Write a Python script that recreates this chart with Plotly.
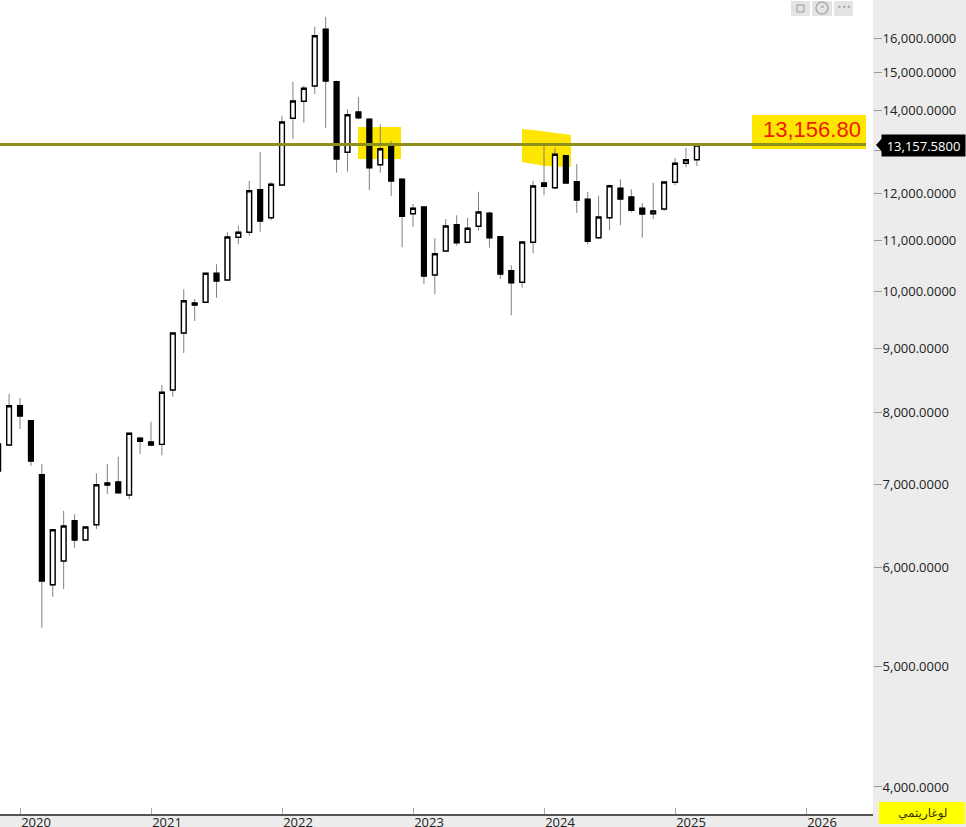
import plotly.graph_objects as go

PLOT_W = 873
PLOT_H = 814

# monthly candles, Nov 2019 .. Mar 2025
months = [
    "2019-11", "2019-12",
    "2020-01", "2020-02", "2020-03", "2020-04", "2020-05", "2020-06",
    "2020-07", "2020-08", "2020-09", "2020-10", "2020-11", "2020-12",
    "2021-01", "2021-02", "2021-03", "2021-04", "2021-05", "2021-06",
    "2021-07", "2021-08", "2021-09", "2021-10", "2021-11", "2021-12",
    "2022-01", "2022-02", "2022-03", "2022-04", "2022-05", "2022-06",
    "2022-07", "2022-08", "2022-09", "2022-10", "2022-11", "2022-12",
    "2023-01", "2023-02", "2023-03", "2023-04", "2023-05", "2023-06",
    "2023-07", "2023-08", "2023-09", "2023-10", "2023-11", "2023-12",
    "2024-01", "2024-02", "2024-03", "2024-04", "2024-05", "2024-06",
    "2024-07", "2024-08", "2024-09", "2024-10", "2024-11", "2024-12",
    "2025-01", "2025-02", "2025-03",
]
opens = [
    7179, 7533,
    8101, 7879, 7130, 5816, 6077, 6548, 6318, 6499, 7021, 7034, 6867, 7627,
    7575, 7542, 8340, 9268, 9797, 9810, 10351, 10223, 11064, 11167, 12083, 11473,
    12189, 13790, 14231, 14640, 16260, 14757, 12949, 13952, 13765, 12655, 13084, 12318,
    11558, 11702, 10319, 10787, 11325, 10962, 11292, 11567, 11076, 10401, 10180, 10962,
    12234, 12128, 12868, 12263, 11870, 11056, 11473, 12114, 11921, 11674, 11558, 11659,
    12250, 12688, 12773,
]
closes = [
    7546, 8101,
    7948, 7313, 5856, 6440, 6484, 6318, 6472, 6999, 6995, 6896, 7698, 7584,
    7533, 8305, 9268, 9839, 9761, 10351, 10204, 11070, 11167, 12061, 11403, 12205,
    13696, 14239, 14578, 16068, 14776, 12790, 13882, 13805, 12585, 13036, 12279, 11503,
    11674, 10299, 10733, 11298, 10954, 11250, 11595, 11056, 10338, 10172, 10968, 12166,
    12160, 12901, 12234, 11855, 10983, 11488, 12173, 11877, 11631, 11552, 11616, 12257,
    12688, 12773, 13125,
]
highs = [
    7600, 8279,
    8217, 7879, 7272, 6440, 6670, 6626, 6472, 7148, 7272, 7371, 7707, 7649,
    7865, 8418, 9268, 10049, 9870, 10351, 10525, 11167, 11304, 12279, 12956, 12257,
    13857, 14757, 14648, 16338, 16643, 14784, 14022, 14345, 13790, 13638, 13230, 12318,
    11767, 11702, 11050, 11445, 11524, 11473, 12038, 11601, 11090, 10505, 10968, 12286,
    13125, 13060, 12868, 12672, 12032, 11950, 12195, 12318, 12092, 11789, 12241, 12257,
    12813, 13052, 13170,
]
lows = [
    7100, 7519,
    7759, 7245, 5371, 5688, 5770, 6228, 6318, 6448, 6880, 6896, 6812, 7408,
    7515, 7390, 8237, 8931, 9476, 9810, 9894, 10223, 10928, 11097, 11179, 11418,
    12166, 13272, 13678, 14424, 13552, 12470, 12493, 13765, 12076, 12470, 11943, 10861,
    11283, 10148, 9962, 10787, 10894, 10962, 11200, 10853, 10242, 9577, 10079, 10741,
    11958, 12092, 12234, 11573, 10922, 11044, 11208, 11313, 11588, 11056, 11445, 11616,
    12182, 12595, 12625,
]

price_ticks = [4000, 5000, 6000, 7000, 8000, 9000, 10000, 11000, 12000, 13000, 14000, 15000, 16000]
year_ticks = [2020, 2021, 2022, 2023, 2024, 2025, 2026]

level_value = 13135
level_note = "13,156.80"
last_price = "13,157.5800"
scale_label = "لوغاريتمي"


def month_pos(label):
    y, m = label.split("-")
    return (int(y) - 2020) * 12 + int(m) - 1


def px(x):
    return x / PLOT_W


def py(y):
    return 1 - y / PLOT_H


def rect(x0, y0, x1, y1, fill, layer="below", line=None):
    return dict(type="rect", xref="paper", yref="paper", layer=layer,
                x0=px(x0), x1=px(x1), y0=py(y0), y1=py(y1),
                fillcolor=fill, line=line or dict(width=0))


def poly(points, fill, layer="below"):
    path = "M " + " L ".join(f"{px(x)},{py(y)}" for x, y in points) + " Z"
    return dict(type="path", xref="paper", yref="paper", layer=layer,
                path=path, fillcolor=fill, line=dict(width=0))


def note(x, y, text, size, color, family="Open Sans", **kw):
    return dict(xref="paper", yref="paper", x=px(x), y=py(y), text=text, showarrow=False,
                xanchor=kw.pop("xanchor", "center"), yanchor="middle",
                font=dict(family=family, size=size, color=color), **kw)


x_vals = [month_pos(m) for m in months]
body_top = [max(o, c) for o, c in zip(opens, closes)]
body_bot = [min(o, c) for o, c in zip(opens, closes)]

fig = go.Figure()
# wicks are grey and the body outline black, so draw the bodies a second time
fig.add_trace(go.Candlestick(
    x=x_vals, open=opens, high=highs, low=lows, close=closes,
    increasing=dict(line=dict(color="#808080", width=1), fillcolor="#ffffff"),
    decreasing=dict(line=dict(color="#808080", width=1), fillcolor="#000000"),
    whiskerwidth=0, showlegend=False,
))
fig.add_trace(go.Candlestick(
    x=x_vals, open=opens, high=body_top, low=body_bot, close=closes,
    increasing=dict(line=dict(color="#000000", width=1.4), fillcolor="#ffffff"),
    decreasing=dict(line=dict(color="#000000", width=1.4), fillcolor="#000000"),
    whiskerwidth=0, showlegend=False,
))

yellow = "#ffe600"
shapes = [
    rect(358, 127, 401, 159, yellow),
    poly([(522, 129), (533, 130), (571, 135), (571, 167), (545, 166), (522, 162)], yellow),
    rect(752, 115, 866, 149, yellow),
    dict(type="line", xref="paper", yref="y", layer="above",
         x0=0, x1=px(866), y0=level_value, y1=level_value,
         line=dict(color="#8f8f1e", width=3)),
    # price tag tip
    poly([(885, 135), (876, 145), (885, 155)], "#000000", layer="above"),
    # little toolbar at the top
    rect(791, 1, 810, 16, "#e4e4e4"),
    rect(812, 1, 832, 16, "#e4e4e4"),
    rect(834, 1, 853, 16, "#e4e4e4"),
    rect(797, 5, 804, 12, "rgba(0,0,0,0)", line=dict(color="#999999", width=1)),
    dict(type="circle", xref="paper", yref="paper", layer="below",
         x0=px(816), x1=px(828), y0=py(2), y1=py(14),
         fillcolor="rgba(0,0,0,0)", line=dict(color="#aaaaaa", width=1.5)),
    rect(879, 802, 965, 824, "#ffff00", layer="above"),
]

annotations = [
    note(812, 129, level_note, 22, "#ee1c00", family="Liberation Sans"),
    note(966, 145, last_price, 13, "#ffffff", xanchor="right", bgcolor="#000000", width=81, height=19),
    note(922, 813, scale_label, 12, "#333300", family="DejaVu Sans"),
    note(844, 8, "•••", 8, "#aaaaaa", family="DejaVu Sans"),
    note(822, 8, "•", 8, "#aaaaaa", family="DejaVu Sans"),
]

# the 13,000 label sits behind the price tag
price_labels = ["" if v == 13000 else f"{v:,.4f}" for v in price_ticks]

fig.update_layout(
    width=966, height=827,
    margin=dict(l=0, r=966 - PLOT_W, t=0, b=827 - PLOT_H, pad=0),
    paper_bgcolor="#ececec", plot_bgcolor="#ffffff",
    font=dict(family="Open Sans", size=13, color="#222222"),
    boxgap=0.38,
    shapes=shapes, annotations=annotations,
    showlegend=False,
    xaxis=dict(
        automargin=False,
        range=[-20 / 10.917, (PLOT_W - 20) / 10.917],
        rangeslider=dict(visible=False),
        tickvals=[(y - 2020) * 12 for y in year_ticks],
        ticktext=[str(y) for y in year_ticks],
        ticks="inside", ticklen=6, tickcolor="#aaaaaa", tickwidth=1,
        ticklabelshift=16, ticklabelstandoff=-4,
        showgrid=False, zeroline=False,
        showline=True, linecolor="#555555", linewidth=1.5,
    ),
    yaxis=dict(
        automargin=False,
        type="log", side="right",
        range=[3.58033, 4.23467],
        tickvals=price_ticks, ticktext=price_labels,
        ticks="outside", ticklen=8, tickcolor="#999999", tickwidth=1,
        ticklabelstandoff=-2,
        showgrid=False, zeroline=False, showline=False,
    ),
)

fig.write_html("out.html", config=dict(displayModeBar=False),
               post_script="document.body.style.margin='0';")
